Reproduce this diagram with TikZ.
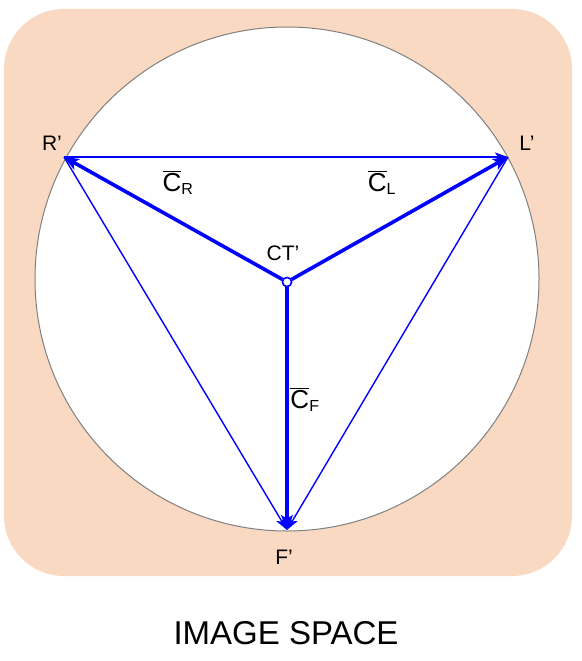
\documentclass[tikz,border=0pt]{standalone}
\usepackage{fontspec}
\setmainfont{Liberation Sans}
\usetikzlibrary{arrows.meta}
\definecolor{peach}{RGB}{249,217,194}
\newcommand{\cvec}[1]{$\overline{\hbox{C}}_{\hbox{\fontsize{16}{16}\selectfont #1}}$}

\begin{document}
\begin{tikzpicture}[x=1pt,y=-1pt,
  thin arrow/.style={-{Stealth[length=13pt,width=9pt,inset=3pt]},blue,line width=1.4pt},
  thick arrow/.style={-{Stealth[length=15pt,width=12pt,inset=4pt]},blue,line width=3.6pt},
  pt label/.style={font=\fontsize{21}{21}\selectfont},
  vec label/.style={font=\fontsize{26}{26}\selectfont},
  centre node/.style={circle,draw=blue,fill=white,line width=1.5pt,inner sep=0pt,minimum size=9pt}]
  \useasboundingbox (0,0) rectangle (581,661);
  \fill[peach,rounded corners=60pt] (4,9) rectangle (572,576);
  \filldraw[fill=white,draw=gray,line width=1pt] (287,279) circle (252);
  % points on the circle
  \coordinate (R) at (64,157);
  \coordinate (L) at (508,157);
  \coordinate (F) at (287,530);
  \node[centre node] (CT) at (287,282) {};
  % sides of the triangle
  \draw[thin arrow] (R) -- (L);
  \draw[thin arrow] (R) -- (F);
  \draw[thin arrow] (L) -- (F);
  % vectors from the centre
  \draw[thick arrow] (CT) -- (R);
  \draw[thick arrow] (CT) -- (L);
  \draw[thick arrow] (CT) -- (F);
  \node[centre node] at (CT) {};
  % labels
  \node[pt label] (Rlab) at (52,143) {R'};
  \node[pt label] (Llab) at (527,143) {L'};
  \node[pt label] (Flab) at (284,557) {F'};
  \node[pt label] (CTlab) at (283,253) {CT'};
  \node[vec label] (CRlab) at (178,183) {\cvec{R}};
  \node[vec label] (CLlab) at (382,183) {\cvec{L}};
  \node[vec label] (CFlab) at (305,400) {\cvec{F}};
  \node[font=\fontsize{33}{33}\selectfont] (title) at (286,633) {IMAGE SPACE};
\end{tikzpicture}
\end{document}
